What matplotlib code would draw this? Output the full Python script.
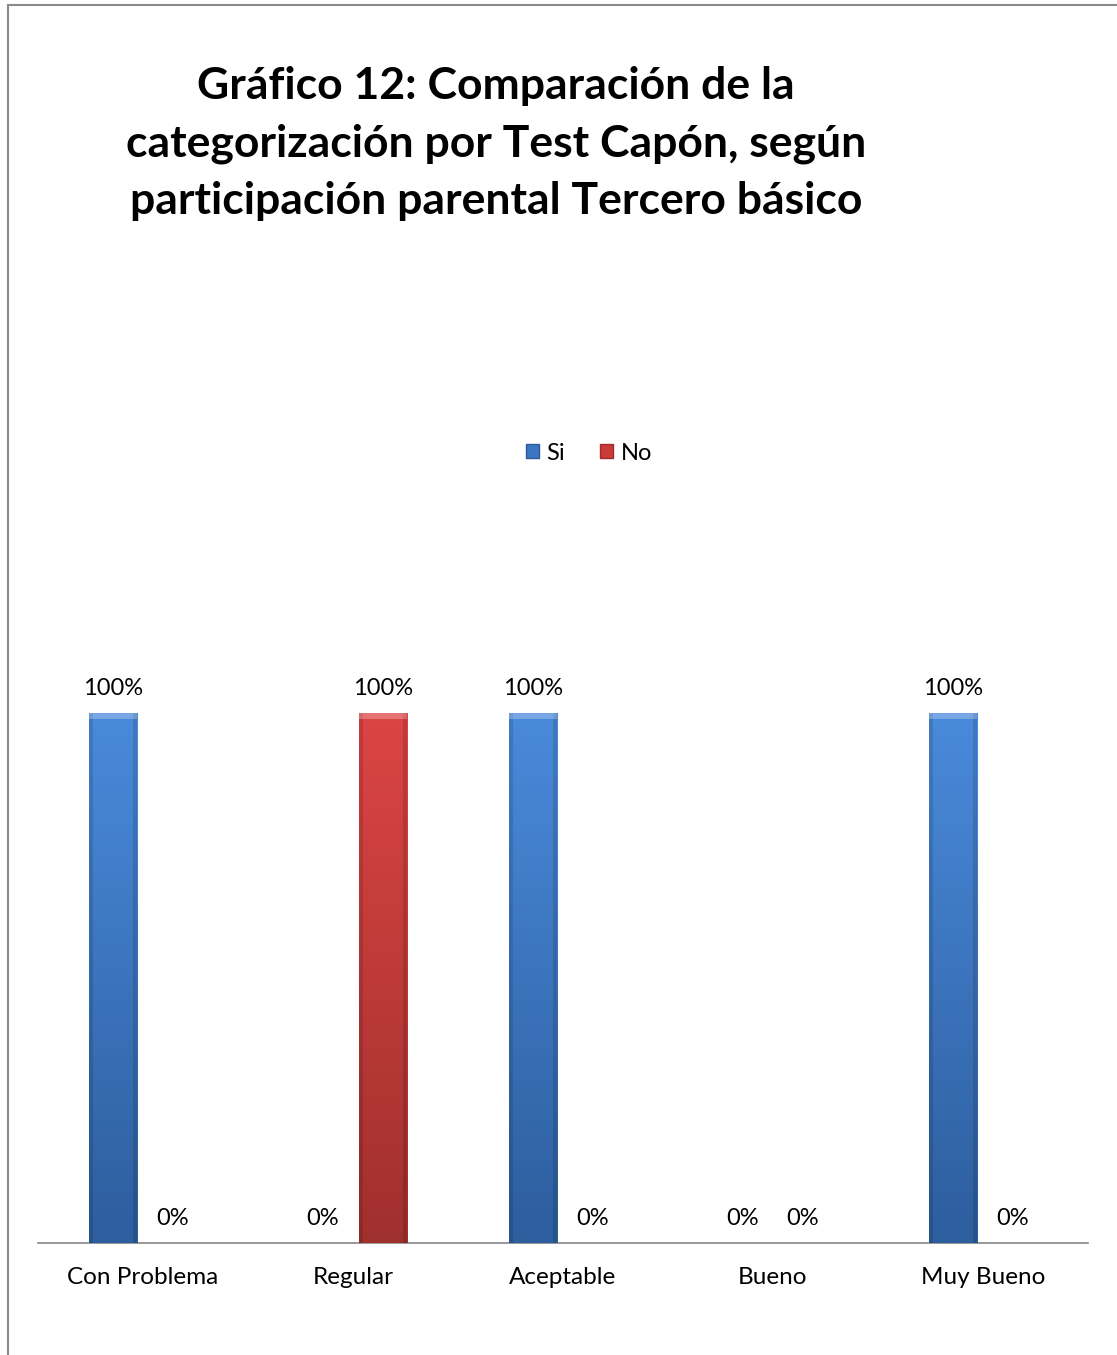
import matplotlib.pyplot as plt
import numpy as np
from matplotlib.patches import Rectangle
from matplotlib.lines import Line2D

categories = ["Con Problema", "Regular", "Aceptable", "Bueno", "Muy Bueno"]
si_values = [1.0, 0.0, 1.0, 0.0, 1.0]
no_values = [0.0, 1.0, 0.0, 0.0, 0.0]
series_names = ["Si", "No"]

title_lines = ["Gráfico 12: Comparación de la",
               "categorización por Test Capón, según",
               "participación parental Tercero básico"]

plt.rcParams['font.family'] = ['Lato', 'DejaVu Sans']

W, H = 1117, 1355
fig = plt.figure(figsize=(W / 100, H / 100), dpi=100)

# plot area in pixels: x 38..1088, baseline at y 1243, 100% at y 713
left, right, base, top100 = 38, 1088, 1243, 713
ymax = 1.2
ax_h = (base - top100) * ymax
ax = fig.add_axes([left / W, (H - base) / H, (right - left) / W, ax_h / H])

x = np.arange(len(categories))
bw = 0.229
off = 0.143

def gradient_bars(xs, vals, top_col, bot_col):
    grad = np.linspace(0, 1, 100)[:, None]
    c0 = np.array(plt.matplotlib.colors.to_rgb(top_col))
    c1 = np.array(plt.matplotlib.colors.to_rgb(bot_col))
    img = c0 * (1 - grad[..., None]) + c1 * grad[..., None]
    img = np.repeat(img, 3, axis=1)
    bars = ax.bar(xs, vals, bw, color=bot_col, edgecolor='none', zorder=2)
    for b, v in zip(bars, vals):
        if v <= 0:
            continue
        x0 = b.get_x()
        im = ax.imshow(img, extent=[x0, x0 + bw, 0, v], aspect='auto', zorder=3)
        im.set_clip_path(b)
        # darker bevel edges on the sides
        ax.add_patch(Rectangle((x0, 0), bw * 0.08, v, color='black', alpha=0.12, lw=0, zorder=4))
        ax.add_patch(Rectangle((x0 + bw * 0.92, 0), bw * 0.08, v, color='black', alpha=0.12, lw=0, zorder=4))
        ax.add_patch(Rectangle((x0, v - 0.012), bw, 0.012, color='white', alpha=0.25, lw=0, zorder=4))
    return bars

gradient_bars(x - off, si_values, '#4A8ADB', '#2D5E9E')
gradient_bars(x + off, no_values, '#DB4543', '#A0302E')

for xs, vals in ((x - off, si_values), (x + off, no_values)):
    for xi, v in zip(xs, vals):
        ax.text(xi, v + 0.047, f"{v * 100:.0f}%", ha='center', va='center',
                fontsize=17, color='black')

ax.set_xlim(-0.5, len(categories) - 0.5)
ax.set_ylim(0, ymax)
ax.set_xticks(x)
ax.set_xticklabels(categories, fontsize=17.5)
ax.tick_params(axis='x', length=0, pad=17)
ax.set_yticks([])
for s in ('top', 'right', 'left'):
    ax.spines[s].set_visible(False)
ax.spines['bottom'].set_color('#868686')
ax.spines['bottom'].set_linewidth(1.2)
ax.set_facecolor('none')

for i, line in enumerate(title_lines):
    fig.text(496 / W, 1 - (86 + 57.5 * i) / H, line, ha='center', va='center',
             fontsize=32, fontweight='bold')

# legend
handles = [Rectangle((0, 0), 1, 1, facecolor='#3A76C4', edgecolor='#2C5A98'),
           Rectangle((0, 0), 1, 1, facecolor='#C93B39', edgecolor='#9E2E2C')]
fig.legend(handles, series_names, loc='center', bbox_to_anchor=(589 / W, 1 - 453 / H),
           ncol=2, frameon=False, fontsize=17, handlelength=0.55, handleheight=0.55,
           handletextpad=0.3, columnspacing=1.5)

# chart border
fig.add_artist(Line2D([8 / W, 8 / W], [0, 1 - 5 / H], color='#8a8a8a', lw=1.5,
                      transform=fig.transFigure))
fig.add_artist(Line2D([8 / W, 1], [1 - 5 / H, 1 - 5 / H], color='#8a8a8a', lw=1.5,
                      transform=fig.transFigure))

fig.savefig('out.png', dpi=100)
